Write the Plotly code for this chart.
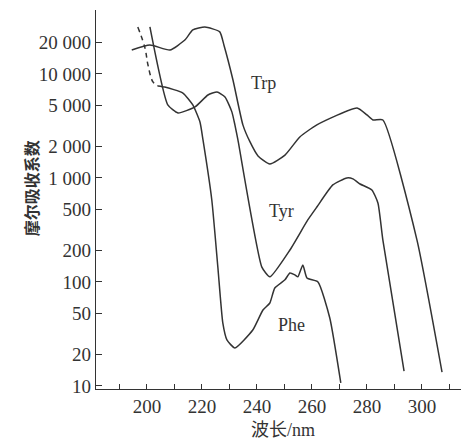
import plotly.graph_objects as go
import math

# Trp
trp_x = [194.5, 201.1, 208.4, 213.8, 216.7, 221.1, 226.5, 228.0, 231.3, 234.9, 237.5, 240.4,
         244.7, 250.2, 255.6, 261.8, 276.4, 280.0, 282.2, 285.8, 298.2, 307.3]
trp_y = [17000, 19000, 17000, 21200, 26500, 28300, 25400, 19000, 8750, 3240, 2220, 1630,
         1365, 1660, 2480, 3240, 4710, 4040, 3610, 3610, 253, 13.6]

# Tyr
tyr_x = [201.1, 207.6, 211.3, 217.5, 222.2, 225.5, 228.4, 230.9, 232.0, 233.1, 241.8, 244.7,
         252.0, 258.5, 261.8, 267.6, 272.7, 274.9, 277.5, 281.8, 284.0, 285.8, 293.5]
tyr_y = [28300, 5040, 4220, 4820, 6280, 6710, 6010, 4320, 3240, 2320, 139, 112,
         203, 395, 526, 857, 1000, 980, 875, 767, 575, 253, 13.9]

# Phe (dashed start, then solid)
phe_dash_x = [196.7, 199.3, 200.4, 202.2, 204.0]
phe_dash_y = [28300, 17800, 12200, 8380, 7670]
phe_x = [204.0, 206.5, 213.1, 216.7, 219.3, 220.4, 223.6, 225.8, 227.6, 229.1, 232.0, 238.5,
         242.2, 244.7, 246.5, 250.2, 252.0, 253.8, 254.9, 256.7, 258.2, 262.2, 266.5, 270.5]
phe_y = [7670, 7490, 6560, 5040, 3450, 2320, 614, 139, 40.4, 27.7, 23.2, 34.5,
         53.8, 62.8, 87.5, 105, 122, 117, 112, 146, 109, 100, 45, 10.7]

y_tickvals = [10, 20, 50, 100, 200, 500, 1000, 2000, 5000, 10000, 20000]
y_ticktext = ["10", "20", "50", "100", "200", "500", "1 000", "2 000", "5 000", "10 000", "20 000"]
x_tickvals = [190, 200, 210, 220, 230, 240, 250, 260, 270, 280, 290, 300, 310]
x_ticktext = ["", "200", "", "220", "", "240", "", "260", "", "280", "", "300", ""]

labels = ["Trp", "Tyr", "Phe"]
label_x = [242.5, 249.1, 252.4]
label_y = [8200, 482, 38.6]

C = "#333333"
line = dict(color=C, width=1.5, shape="spline", smoothing=0.5)

fig = go.Figure()
fig.add_trace(go.Scatter(x=trp_x, y=trp_y, mode="lines", line=line, name="Trp"))
fig.add_trace(go.Scatter(x=tyr_x, y=tyr_y, mode="lines", line=line, name="Tyr"))
fig.add_trace(go.Scatter(x=phe_dash_x, y=phe_dash_y, mode="lines",
                         line=dict(color=C, width=1.5, dash="5px,4px", shape="spline"), name="Phe"))
fig.add_trace(go.Scatter(x=phe_x, y=phe_y, mode="lines", line=line, name="Phe"))

for t, lx, ly in zip(labels, label_x, label_y):
    fig.add_annotation(x=lx, y=math.log10(ly), text=t, showarrow=False,
                       font=dict(family="Liberation Serif", size=18, color=C))

fig.add_annotation(xref="paper", yref="paper", x=0, y=0.53, xshift=-79, text="<b>摩尔吸收系数</b>",
                   textangle=-90, showarrow=False,
                   font=dict(family="Noto Sans CJK SC", size=16, color=C))
fig.add_annotation(xref="paper", yref="paper", x=0.512, y=0, yshift=-41, yanchor="middle",
                   text="波长/nm", showarrow=False,
                   font=dict(family="Liberation Serif, Noto Sans CJK SC", size=18, color=C))

fig.update_layout(
    width=461, height=440,
    margin=dict(l=96, r=0, t=10, b=51),
    paper_bgcolor="white", plot_bgcolor="white",
    showlegend=False,
    font=dict(family="Liberation Serif", size=19, color=C),
)
fig.update_xaxes(range=[181.5, 314.2], tickmode="array", tickvals=x_tickvals, ticktext=x_ticktext,
                 ticks="inside", ticklen=5, tickcolor=C, showline=True, linecolor=C, linewidth=1.2,
                 showgrid=False, zeroline=False, tickfont=dict(family="Liberation Serif", size=19, color=C))
fig.update_yaxes(type="log", range=[0.971, 4.615], tickmode="array", tickvals=y_tickvals,
                 ticktext=y_ticktext, ticks="inside", ticklen=6, tickcolor=C, showline=True,
                 linecolor=C, linewidth=1.2, showgrid=False, zeroline=False,
                 tickfont=dict(family="Liberation Serif", size=19, color=C))

fig.write_html("out.html", config={"displayModeBar": False},
               post_script="document.body.style.margin='0';document.body.style.overflow='hidden';")
